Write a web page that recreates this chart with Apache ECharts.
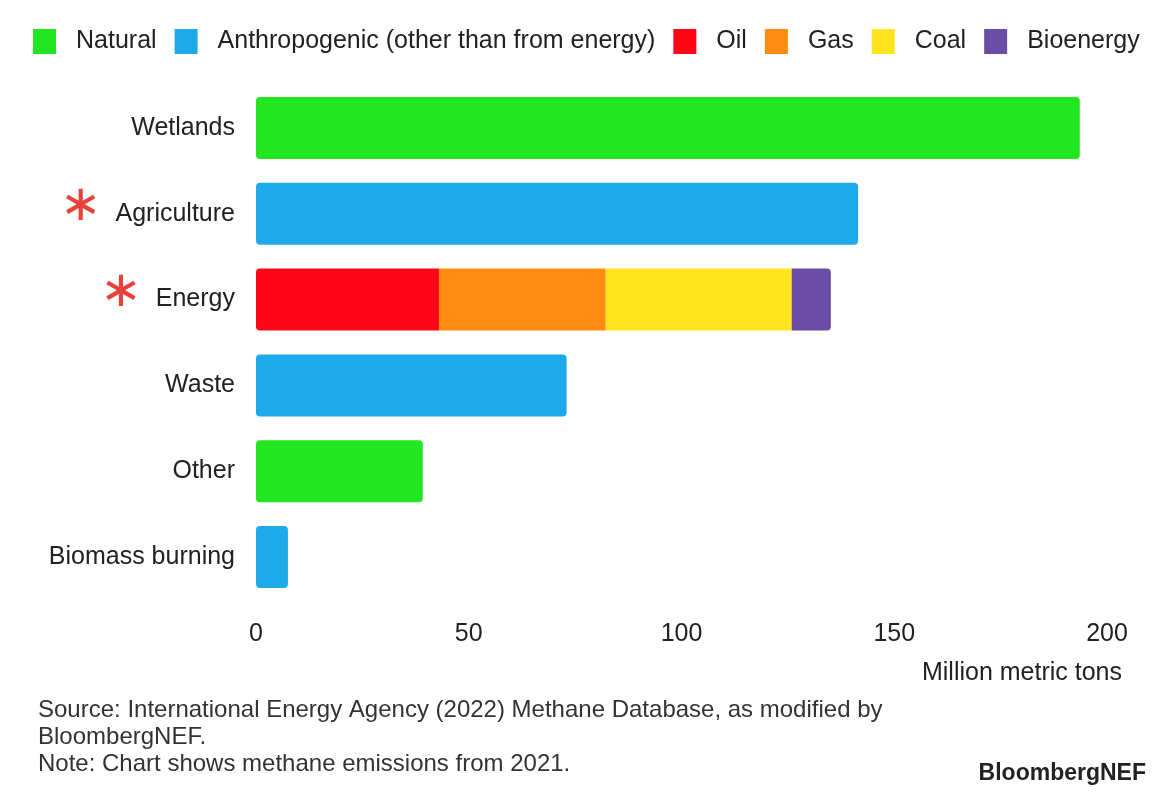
<!DOCTYPE html>
<html>
<head>
<meta charset="utf-8">
<script src="https://cdn.jsdelivr.net/npm/echarts@6/dist/echarts.min.js"></script>
<style>
  html, body { margin: 0; padding: 0; background: #fff; }
  #chart { width: 1176px; height: 798px; }
</style>
</head>
<body>
<div id="chart"></div>
<script>
// categories, top to bottom
const categories = ['Wetlands', 'Agriculture', 'Energy', 'Waste', 'Other', 'Biomass burning']
const starred = ['Agriculture', 'Energy']

// million metric tons
const natural = [193.6, '-', '-', '-', 39.2, '-']
const anthropogenic = ['-', 141.5, '-', 73, '-', 7.5]
const oil = ['-', '-', 43, '-', '-', '-']
const gas = ['-', '-', 39.2, '-', '-', '-']
const coal = ['-', '-', 43.7, '-', '-', '-']
const bioenergy = ['-', '-', 9.2, '-', '-', '-']

const xTicks = [0, 50, 100, 150, 200]

const font = '"Liberation Sans", Arial, sans-serif'
const chart = echarts.init(document.getElementById('chart'))

const barSeries = (name, data, color, radius) => ({
  name,
  type: 'bar',
  stack: 'total',
  data,
  barWidth: 62,
  itemStyle: { color, borderRadius: radius },
  emphasis: { disabled: true }
})

const option = {
  backgroundColor: '#fff',
  animation: false,
  textStyle: { fontFamily: font },
  legend: {
    left: 28,
    top: 24,
    itemWidth: 23,
    itemHeight: 25,
    itemGap: 18,
    icon: 'rect',
    textStyle: { fontSize: 25, color: '#222', fontFamily: font, padding: [0, 0, 0, 15] },
    data: ['Natural', 'Anthropogenic (other than from energy)', 'Oil', 'Gas', 'Coal', 'Bioenergy']
  },
  grid: { left: 256, right: 69, top: 85, bottom: 198 },
  xAxis: {
    type: 'value',
    min: xTicks[0],
    max: xTicks[xTicks.length - 1],
    interval: 50,
    axisLine: { show: false },
    axisTick: { show: false },
    splitLine: { show: false },
    axisLabel: { fontSize: 25, color: '#222', margin: 22, fontFamily: font }
  },
  yAxis: {
    type: 'category',
    inverse: true,
    data: categories,
    axisLine: { show: false },
    axisTick: { show: false },
    axisLabel: {
      fontSize: 25,
      color: '#222',
      margin: 21,
      fontFamily: font,
      formatter: (v) => starred.includes(v) ? '{star|∗}  ' + v : v,
      rich: {
        star: { fontSize: 50, color: '#e8413b', fontFamily: 'DejaVu Sans', padding: [0, 0, 14, 0] }
      }
    }
  },
  series: [
    barSeries('Natural', natural, '#22e622', 4),
    barSeries('Anthropogenic (other than from energy)', anthropogenic, '#1ea9e8', 4),
    barSeries('Oil', oil, '#ff0515', [4, 0, 0, 4]),
    barSeries('Gas', gas, '#ff8c12', 0),
    barSeries('Coal', coal, '#ffe41e', 0),
    barSeries('Bioenergy', bioenergy, '#6a4ea6', [0, 4, 4, 0])
  ],
  graphic: [
    {
      type: 'text', right: 54, top: 661,
      style: { text: 'Million metric tons', fontSize: 25, fill: '#222', fontFamily: font }
    },
    {
      type: 'text', left: 38, top: 697,
      style: {
        text: 'Source: International Energy Agency (2022) Methane Database, as modified by\nBloombergNEF.\nNote: Chart shows methane emissions from 2021.',
        fontSize: 24, lineHeight: 27, fill: '#333', fontFamily: font
      }
    },
    {
      type: 'text', right: 30, top: 762,
      style: { text: 'BloombergNEF', fontSize: 23, fontWeight: 'bold', fill: '#222', fontFamily: font }
    }
  ]
}

chart.setOption(option)
</script>
</body>
</html>
